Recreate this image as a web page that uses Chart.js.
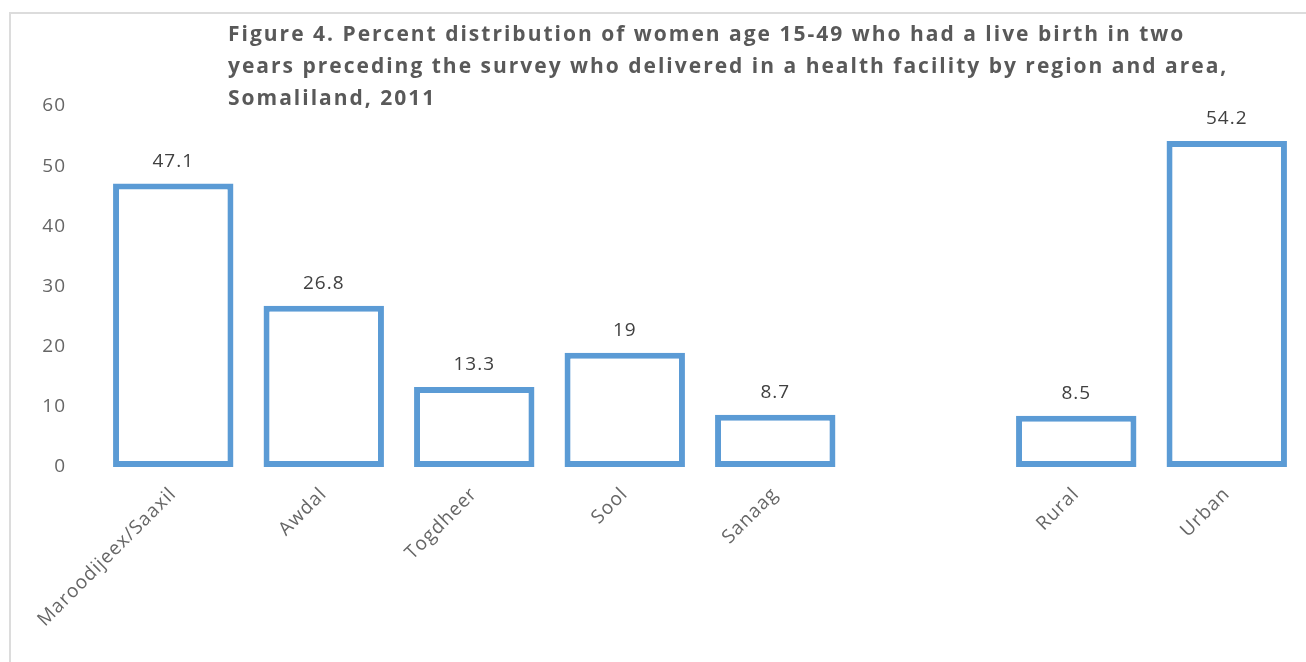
<!DOCTYPE html>
<html>
<head>
<meta charset="utf-8">
<title>Figure 4 – Health facility delivery, Somaliland 2011</title>
<script src="https://cdn.jsdelivr.net/npm/chart.js@4"></script>
<style>
  html, body { margin: 0; padding: 0; background: #fff; }
  #wrap { position: relative; width: 1306px; height: 662px; overflow: hidden; }
  #frame {
    position: absolute; left: 9px; top: 12px; right: 0; bottom: 0;
    border-top: 2px solid #dcdcdc; border-left: 2px solid #dcdcdc;
  }
  canvas { position: absolute; left: 0; top: 0; }
</style>
</head>
<body>
<div id="wrap">
  <div id="frame"></div>
  <canvas id="chart" width="1306" height="662"></canvas>
</div>
<script>
// regions, a blank spacer, then area of residence
const categories = ['Maroodijeex/Saaxil', 'Awdal', 'Togdheer', 'Sool', 'Sanaag', '', 'Rural', 'Urban'];
const percents = [47.1, 26.8, 13.3, 19, 8.7, null, 8.5, 54.2];
const yTicks = [0, 10, 20, 30, 40, 50, 60];

const titleLines = [
  'Figure 4. Percent distribution of women age 15-49 who had a live birth in two',
  'years preceding the survey who delivered in a health facility by region and area,',
  'Somaliland, 2011'
];

const BLUE = '#5b9bd5';
const FONT = '"Open Sans", "Noto Sans", sans-serif';

// slightly spaced-out lettering for axis text
const spacing = {
  id: 'spacing',
  beforeDraw(chart) { chart.ctx.letterSpacing = '1px'; },
  afterDraw(chart) { chart.ctx.letterSpacing = '0px'; }
};

// bold left-aligned title
const titlePlugin = {
  id: 'figTitle',
  afterDraw(chart) {
    const ctx = chart.ctx;
    ctx.save();
    ctx.font = 'bold 21px ' + FONT;
    ctx.fillStyle = '#595959';
    ctx.textAlign = 'left';
    ctx.textBaseline = 'alphabetic';
    ctx.letterSpacing = '2px';
    titleLines.forEach((line, i) => ctx.fillText(line, 228, 41 + i * 32));
    ctx.restore();
  }
};

// value written above each bar
const valueLabels = {
  id: 'valueLabels',
  afterDatasetsDraw(chart) {
    const ctx = chart.ctx;
    const meta = chart.getDatasetMeta(0);
    ctx.save();
    ctx.font = '19px ' + FONT;
    ctx.fillStyle = '#404040';
    ctx.textAlign = 'center';
    ctx.textBaseline = 'middle';
    ctx.letterSpacing = '1px';
    meta.data.forEach((bar, i) => {
      const v = percents[i];
      if (v === null) return;
      ctx.fillText(String(v), bar.x, bar.y - 22);
    });
    ctx.restore();
  }
};

new Chart(document.getElementById('chart'), {
  type: 'bar',
  data: {
    labels: categories,
    datasets: [{
      data: percents,
      backgroundColor: '#ffffff',
      borderColor: BLUE,
      borderWidth: 6,
      borderSkipped: false,
      categoryPercentage: 1,
      barPercentage: 0.8
    }]
  },
  options: {
    responsive: false,
    animation: false,
    layout: { padding: { left: 0, right: 4, top: 106, bottom: 0 } },
    plugins: {
      legend: { display: false },
      title: { display: false },
      tooltip: { enabled: false }
    },
    scales: {
      x: {
        grid: { display: false },
        border: { display: false },
        ticks: {
          color: '#666666',
          font: { family: FONT, size: 19 },
          minRotation: 45,
          maxRotation: 45,
          autoSkip: false,
          padding: 8
        },
        afterFit(scale) { scale.height = 195; }
      },
      y: {
        min: 0,
        max: 60,
        afterBuildTicks(scale) { scale.ticks = yTicks.map(v => ({ value: v })); },
        grid: { display: false },
        border: { display: false },
        ticks: {
          color: '#666666',
          font: { family: FONT, size: 19 },
          padding: 24
        },
        afterFit(scale) { scale.width = 98; }
      }
    }
  },
  plugins: [spacing, titlePlugin, valueLabels]
});
</script>
</body>
</html>
